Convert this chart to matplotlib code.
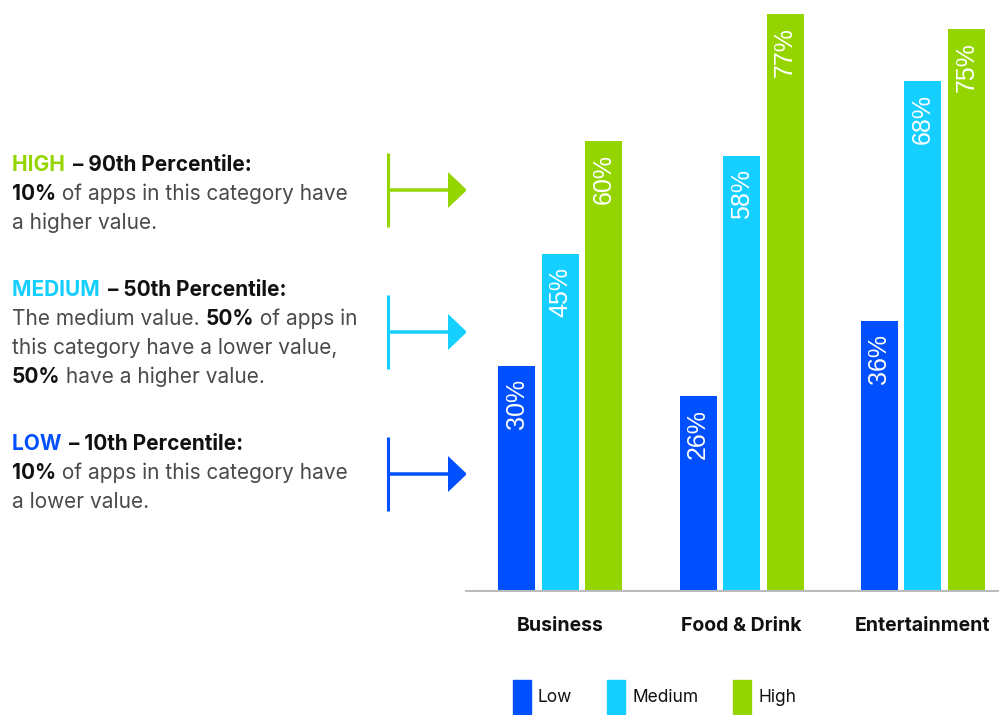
import matplotlib.pyplot as plt
from matplotlib.patches import Patch, FancyArrow

# percentile values per app category
categories = ["Business", "Food & Drink", "Entertainment"]
low = [30, 26, 36]
medium = [45, 58, 68]
high = [60, 77, 75]
series_names = ["Low", "Medium", "High"]
colors = ["#0050ff", "#14cfff", "#94d500"]

# explanatory notes on the left: (title, [(text, bold), ...] per body line)
notes = [
    ("HIGH", "– 90th Percentile:",
     [[("10%", True), (" of apps in this category have", False)],
      [("a higher value.", False)]]),
    ("MEDIUM", "– 50th Percentile:",
     [[("The medium value. ", False), ("50%", True), (" of apps in", False)],
      [("this category have a lower value,", False)],
      [("50%", True), (" have a higher value.", False)]]),
    ("LOW", "– 10th Percentile:",
     [[("10%", True), (" of apps in this category have", False)],
      [("a lower value.", False)]]),
]
note_colors = [colors[2], colors[1], colors[0]]

plt.rcParams["font.family"] = ["Inter", "DejaVu Sans"]

fig = plt.figure(figsize=(9.99, 7.15), dpi=100)

# full-figure overlay in pixel units for the notes and arrows
ov = fig.add_axes([0, 0, 1, 1])
ov.set_xlim(0, 999)
ov.set_ylim(715, 0)
ov.axis("off")

fig.canvas.draw()
renderer = fig.canvas.get_renderer()


def write_line(x, y, segments, size=15):
    for txt, weight, col, gap in segments:
        t = ov.text(x, y, txt, fontsize=size, fontweight=weight, color=col,
                    va="center", ha="left")
        bb = t.get_window_extent(renderer)
        x += bb.width + gap


tops = [165, 290, 444]
arrow_y = [190, 332, 474]
for (name, rest, body), col, y0, ay in zip(notes, note_colors, tops, arrow_y):
    write_line(12, y0, [(name + " ", "bold", col, 3),
                        (rest, "bold", "#111111", 0)])
    for i, line in enumerate(body):
        segs = [(t, "bold" if b else "normal",
                 "#111111" if b else "#4a4a4a", 0) for t, b in line]
        write_line(12, y0 + 29 * (i + 1), segs)
    ov.plot([388, 388], [ay - 37, ay + 37], color=col, lw=2.2,
            solid_capstyle="butt")
    ov.add_patch(FancyArrow(388, ay, 79, 0, width=3.5, head_width=36,
                            head_length=19, length_includes_head=True,
                            color=col, lw=0))

# bar chart
ax = fig.add_axes([466 / 999, 124 / 715, 533 / 999, 585 / 715])
width = 0.204
step = 0.24
for k, (vals, col, name) in enumerate(zip([low, medium, high], colors,
                                          series_names)):
    xs = [i + (k - 1) * step for i in range(len(categories))]
    bars = ax.bar(xs, vals, width=width, color=col, label=name)
    for b, v in zip(bars, vals):
        ax.annotate(f"{v}%", (b.get_x() + b.get_width() / 2, v),
                    xytext=(0, -9.5), textcoords="offset points",
                    rotation=90, ha="center", va="top", color="white",
                    fontsize=18, family="Liberation Sans")

ax.set_xlim(-0.52, 2.42)
ax.set_ylim(0, 78)
ax.set_yticks([])
ax.set_xticks(range(len(categories)))
ax.set_xticklabels(categories, fontsize=14, fontweight="bold",
                   color="#111111")
ax.tick_params(axis="x", length=0, pad=19)
for s in ["top", "right", "left"]:
    ax.spines[s].set_visible(False)
ax.spines["bottom"].set_color("#bbbbbb")
ax.spines["bottom"].set_linewidth(1.5)

handles = [Patch(color=c, label=n) for c, n in zip(colors, series_names)]
fig.legend(handles=handles, ncol=3, frameon=False, fontsize=12.5,
           handlelength=1.05, handleheight=2.7, handletextpad=0.4,
           columnspacing=2.0, loc="center left",
           bbox_to_anchor=(497 / 999, 1 - 697 / 715),
           labelcolor="#111111")

fig.savefig("out.png", dpi=100)
